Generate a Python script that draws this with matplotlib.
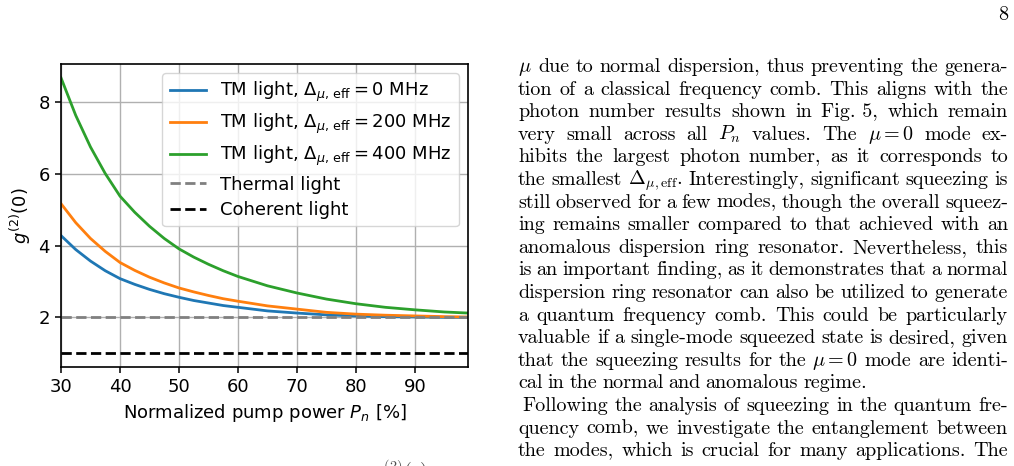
import matplotlib
matplotlib.use('Agg')
import matplotlib.pyplot as plt

# pump power [%]
p_n = [30, 32.5, 35, 37.5, 40, 42.5, 45, 47.5, 50, 52.5, 55, 57.5, 60, 65, 70, 75, 80, 85, 90, 95, 99]
# g2(0)
g2_0mhz = [4.28, 3.89, 3.57, 3.30, 3.08, 2.92, 2.78, 2.66, 2.56, 2.47, 2.40, 2.33, 2.28,
           2.18, 2.12, 2.07, 2.04, 2.02, 2.01, 2.00, 2.00]
g2_200mhz = [5.17, 4.64, 4.20, 3.84, 3.53, 3.31, 3.12, 2.96, 2.82, 2.71, 2.61, 2.52, 2.45,
             2.32, 2.23, 2.14, 2.09, 2.06, 2.04, 2.02, 2.01]
g2_400mhz = [8.68, 7.63, 6.75, 6.01, 5.38, 4.93, 4.54, 4.20, 3.91, 3.68, 3.48, 3.30, 3.14,
             2.88, 2.68, 2.51, 2.38, 2.28, 2.21, 2.15, 2.12]
g2_thermal = 2
g2_coherent = 1

page_lines = [
    r'$\mu$ due to normal dispersion, thus preventing the genera-',
    r'tion of a classical frequency comb. This aligns with the',
    r'photon number results shown in Fig.~5, which remain',
    r'very small across all $P_n$ values. The $\mu=0$ mode ex-',
    r'hibits the largest photon number, as it corresponds to',
    r'the smallest $\Delta_{\mu,\mathrm{eff}}$. Interestingly, significant squeezing is',
    r'still observed for a few modes, though the overall squeez-',
    r'ing remains smaller compared to that achieved with an',
    r'anomalous dispersion ring resonator. Nevertheless, this',
    r'is an important finding, as it demonstrates that a normal',
    r'dispersion ring resonator can also be utilized to generate',
    r'a quantum frequency comb. This could be particularly',
    r'valuable if a single-mode squeezed state is desired, given',
    r'that the squeezing results for the $\mu=0$ mode are identi-',
    r'cal in the normal and anomalous regime.',
    r' Following the analysis of squeezing in the quantum fre-',
    r'quency comb, we investigate the entanglement between',
    r'the modes, which is crucial for many applications. The',
]
last_lines = [14]

W, H = 1014, 466
fig = plt.figure(figsize=(W / 100, H / 100), dpi=100)
ax = fig.add_axes([61 / W, 1 - 367 / H, (468 - 61) / W, (367 - 64) / H])

lw = 2.0
ax.plot(p_n, g2_0mhz, lw=lw, label=r'TM light, $\Delta_{\mu,\,\mathrm{eff}} = 0$ MHz')
ax.plot(p_n, g2_200mhz, lw=lw, label=r'TM light, $\Delta_{\mu,\,\mathrm{eff}} = 200$ MHz')
ax.plot(p_n, g2_400mhz, lw=lw, label=r'TM light, $\Delta_{\mu,\,\mathrm{eff}} = 400$ MHz')
ax.axhline(g2_thermal, color='gray', linestyle='--', lw=lw, label='Thermal light')
ax.axhline(g2_coherent, color='black', linestyle='--', lw=lw, label='Coherent light')
ax.set_xlim(p_n[0], p_n[-1])
ax.set_xticks([30, 40, 50, 60, 70, 80, 90])
ax.set_yticks([2, 4, 6, 8])
ax.tick_params(labelsize=13, length=4.5, width=1.1)
for s in ax.spines.values():
    s.set_linewidth(1.2)
ax.set_xlabel(r'Normalized pump power $P_n$ [%]', fontsize=13)
ax.set_ylabel(r'$g^{(2)}(0)$', fontsize=13)
ax.grid(True, lw=1.0)
ax.legend(loc='upper right', fontsize=13, labelspacing=0.42)

# page text around the figure (justified by hand)
fs = 14.5
x0, x1 = 518 / W, 1008 / W
fig.text(1008 / W, 1 - 20 / H, '8', family='cmr10', fontsize=fs, ha='right', va='baseline')
fig.canvas.draw()
r = fig.canvas.get_renderer()
inv = fig.transFigure.inverted()
for i, line in enumerate(page_lines):
    y = 1 - (72 + 22.6 * i) / H
    indent = 4 / W if line.startswith(' ') else 0
    words = [w.replace('~', ' ') for w in line.split()]
    ts = [fig.text(0, y, w, family='cmr10', math_fontfamily='cm', fontsize=fs, va='baseline') for w in words]
    ws = [inv.transform(t.get_window_extent(r))[:, 0] for t in ts]
    ws = [b[1] - b[0] for b in ws]
    if i in last_lines:
        gap = 5 / W
    else:
        gap = (x1 - x0 - indent - sum(ws)) / (len(ws) - 1)
    x = x0 + indent
    for t, w in zip(ts, ws):
        t.set_x(x)
        x += w + gap

fig.text(373 / W, 1 - 458 / H, r'$g^{(2)}(\tau)$', math_fontfamily='cm', fontsize=fs, va='top', color='0.3')

fig.savefig('out.png', dpi=100)
